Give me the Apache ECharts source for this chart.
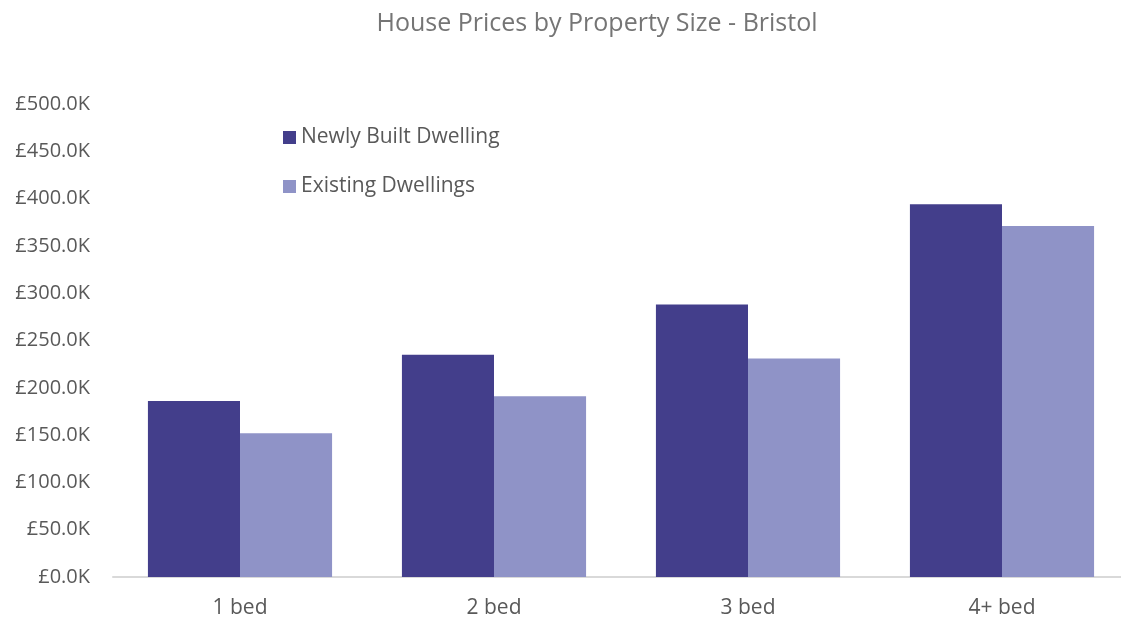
<!DOCTYPE html>
<html>
<head>
<meta charset="utf-8">
<script src="https://cdn.jsdelivr.net/npm/echarts@6/dist/echarts.min.js"></script>
<style>
  html, body { margin: 0; padding: 0; background: #fff; }
  #chart { width: 1121px; height: 620px; }
</style>
</head>
<body>
<div id="chart"></div>
<script>
  // values in £ thousands
  const categories = ['1 bed', '2 bed', '3 bed', '4+ bed'];
  const newlyBuilt = [186, 235, 288, 394];
  const existing = [152, 191, 231, 371];
  const seriesNames = ['Newly Built Dwelling', 'Existing Dwellings'];

  const font = '"Open Sans", "Liberation Sans", sans-serif';
  const mychart = echarts.init(document.getElementById('chart'));
  const option = {
    animation: false,
    title: {
      text: 'House Prices by Property Size - Bristol',
      left: 592,
      top: 6,
      textAlign: 'center',
      textStyle: {
        color: '#757575',
        fontFamily: font,
        fontWeight: 'normal',
        fontSize: 25
      }
    },
    legend: {
      orient: 'vertical',
      left: 278,
      top: 122,
      itemWidth: 13,
      itemHeight: 13,
      itemGap: 28,
      icon: 'rect',
      textStyle: {
        color: '#595959',
        fontFamily: font,
        fontSize: 21
      },
      data: seriesNames
    },
    grid: {
      left: 113,
      top: 104,
      bottom: 43,
      width: 1016,
      outerBoundsMode: 'none',
      containLabel: false
    },
    xAxis: {
      type: 'category',
      data: categories,
      axisTick: { show: false },
      axisLine: { lineStyle: { color: '#d9d9d9', width: 2 } },
      axisLabel: {
        color: '#595959',
        fontFamily: font,
        fontSize: 21,
        margin: 21
      }
    },
    yAxis: {
      type: 'value',
      min: 0,
      max: 500,
      interval: 50,
      splitLine: { show: false },
      axisLine: { show: false },
      axisTick: { show: false },
      axisLabel: {
        color: '#595959',
        fontFamily: font,
        fontSize: 20,
        margin: 23,
        formatter: function (v) {
          return '£' + v.toFixed(1) + 'K';
        }
      }
    },
    series: [{
      name: seriesNames[0],
      type: 'bar',
      data: newlyBuilt,
      barGap: '0%',
      barCategoryGap: '27.5%',
      itemStyle: { color: '#433e8b' }
    }, {
      name: seriesNames[1],
      type: 'bar',
      data: existing,
      itemStyle: { color: '#8f93c7' }
    }]
  };
  mychart.setOption(option);
</script>
</body>
</html>
